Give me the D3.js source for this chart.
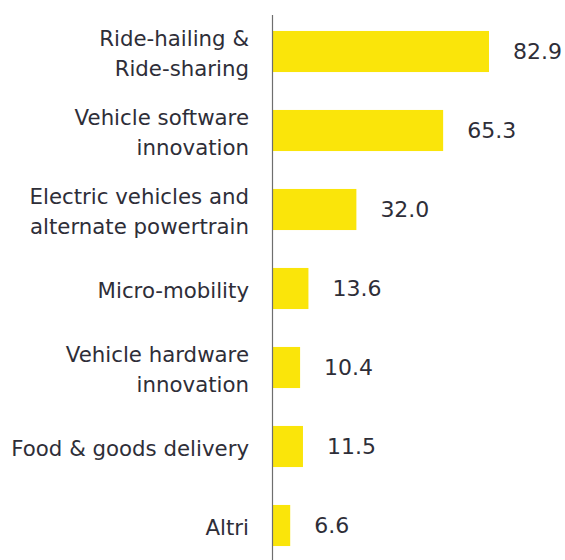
<!DOCTYPE html>
<html>
<head>
<meta charset="utf-8">
<script src="https://cdn.jsdelivr.net/npm/d3@7"></script>
<style>
  body { margin: 0; background: #fff; }
  text { font-family: "DejaVu Sans", sans-serif; fill: #2e2e38; }
</style>
</head>
<body>
<div id="chart"></div>
<script>
// categories (each entry = lines of the label) and values
const categories = [
  ["Ride-hailing &", "Ride-sharing"],
  ["Vehicle software", "innovation"],
  ["Electric vehicles and", "alternate powertrain"],
  ["Micro-mobility"],
  ["Vehicle hardware", "innovation"],
  ["Food & goods delivery"],
  ["Altri"]
];
const values = [82.9, 65.3, 32.0, 13.6, 10.4, 11.5, 6.6];
const valueLabels = ["82.9", "65.3", "32.0", "13.6", "10.4", "11.5", "6.6"];

const width = 565;
const height = 560;
const axisX = 273;

const data = categories.map((c, i) => ({ key: c.join(" "), lines: c, value: values[i], label: valueLabels[i] }));

const svg = d3.select("#chart")
    .append("svg")
    .attr("width", width)
    .attr("height", height);

const x = d3.scaleLinear()
    .domain([0, 82.9])
    .range([axisX, 489]);

const y = d3.scaleBand()
    .domain(data.map(d => d.key))
    .range([12, 565])
    .paddingInner(0.48)
    .paddingOuter(0.24);

// bars
svg.selectAll(".bar")
    .data(data)
    .enter()
    .append("rect")
    .attr("class", "bar")
    .attr("x", x(0))
    .attr("y", d => y(d.key))
    .attr("width", d => x(d.value) - x(0))
    .attr("height", y.bandwidth())
    .attr("fill", "#fae50a");

// value labels
svg.selectAll(".val")
    .data(data)
    .enter()
    .append("text")
    .attr("class", "val")
    .attr("x", d => x(d.value) + 24)
    .attr("y", d => y(d.key) + y.bandwidth() / 2)
    .attr("dy", "0.36em")
    .attr("font-size", 22)
    .text(d => d.label);

// category labels
const lineH = 30;
const cat = svg.selectAll(".cat")
    .data(data)
    .enter()
    .append("text")
    .attr("class", "cat")
    .attr("text-anchor", "end")
    .attr("font-size", 21.3)
    .attr("y", d => y(d.key) + y.bandwidth() / 2 - (d.lines.length - 1) * lineH / 2 + 2);

cat.selectAll("tspan")
    .data(d => d.lines)
    .enter()
    .append("tspan")
    .attr("x", 249)
    .attr("dy", (d, i) => i === 0 ? "0.36em" : lineH)
    .text(d => d);

// vertical axis line
svg.append("line")
    .attr("x1", axisX - 0.5)
    .attr("x2", axisX - 0.5)
    .attr("y1", 15)
    .attr("y2", height)
    .attr("stroke", "#6e6e6e")
    .attr("stroke-width", 1.2);
</script>
</body>
</html>
